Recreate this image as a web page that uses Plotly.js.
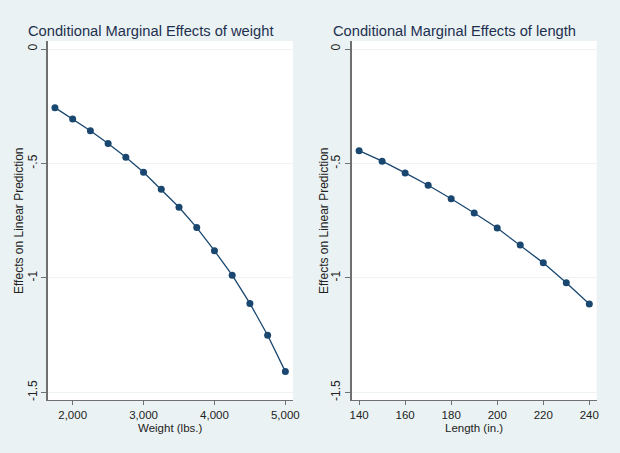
<!DOCTYPE html>
<html>
<head>
<meta charset="utf-8">
<script src="https://cdn.plot.ly/plotly-3.0.1.min.js"></script>
<style>html,body{margin:0;padding:0;background:#eaf2f3;}#chart{width:620px;height:453px;}</style>
</head>
<body>
<div id="chart"></div>
<script>
// Left panel: weight
const weightX = [1750, 2000, 2250, 2500, 2750, 3000, 3250, 3500, 3750, 4000, 4250, 4500, 4750, 5000];
const weightEffect = [-0.256, -0.306, -0.357, -0.413, -0.473, -0.538, -0.613, -0.691, -0.780, -0.881, -0.988, -1.111, -1.250, -1.409];
// Right panel: length
const lengthX = [140, 150, 160, 170, 180, 190, 200, 210, 220, 230, 240];
const lengthEffect = [-0.444, -0.490, -0.541, -0.595, -0.654, -0.716, -0.782, -0.856, -0.934, -1.021, -1.114];

const yTickVals = [0, -0.5, -1, -1.5];
const yTickText = ['0', '-.5', '-1', '-1.5'];
const weightTicks = [2000, 3000, 4000, 5000];
const weightTickText = ['2,000', '3,000', '4,000', '5,000'];
const lengthTicks = [140, 160, 180, 200, 220, 240];

const navy = '#1a476f';
const font = 'Liberation Sans, Arial, sans-serif';

const traces = [
  {x: weightX, y: weightEffect, xaxis: 'x', yaxis: 'y', mode: 'lines+markers',
   line: {color: navy, width: 1.3}, marker: {color: navy, size: 7}, showlegend: false},
  {x: lengthX, y: lengthEffect, xaxis: 'x2', yaxis: 'y2', mode: 'lines+markers',
   line: {color: navy, width: 1.3}, marker: {color: navy, size: 7}, showlegend: false}
];

function yAxis(anchor) {
  return {
    domain: [0.117, 0.9095], range: [-1.533, 0.035], anchor: anchor,
    tickvals: yTickVals, ticktext: yTickText, tickangle: -90,
    ticks: 'outside', ticklen: 5, tickcolor: '#707070', tickwidth: 1,
    showline: true, linecolor: '#707070', linewidth: 1.5,
    showgrid: true, gridcolor: '#eef3f4', gridwidth: 1, zeroline: false,
    tickfont: {family: font, size: 12, color: '#222'}
  };
}
function xAxis(domain, range, tickvals, ticktext, anchor) {
  return {
    domain: domain, range: range, anchor: anchor,
    tickvals: tickvals, ticktext: ticktext,
    ticks: 'outside', ticklen: 4, tickcolor: '#707070', tickwidth: 1,
    showline: true, linecolor: '#707070', linewidth: 1.5,
    showgrid: false, zeroline: false,
    tickfont: {family: font, size: 11.5, color: '#222'}
  };
}

function label(text, x, y, size, color, angle) {
  return {text: text, xref: 'paper', yref: 'paper', x: x / 620, y: 1 - y / 453,
    xanchor: 'center', yanchor: 'middle', showarrow: false, textangle: angle || 0,
    font: {family: font, size: size, color: color}};
}

const layout = {
  width: 620, height: 453,
  margin: {l: 0, r: 0, t: 0, b: 0},
  paper_bgcolor: '#eaf2f3', plot_bgcolor: '#ffffff',
  showlegend: false,
  xaxis: xAxis([0.0774, 0.4726], [1652, 5108], weightTicks, weightTickText, 'y'),
  yaxis: yAxis('x'),
  xaxis2: xAxis([0.5673, 0.9624], [136.8, 243.2], lengthTicks, lengthTicks.map(String), 'y2'),
  yaxis2: yAxis('x2'),
  annotations: [
    label('Conditional Marginal Effects of weight', 150, 31, 14.7, '#1e3050'),
    label('Conditional Marginal Effects of length', 454, 31, 14.7, '#1e3050'),
    label('Weight (lbs.)', 170, 428, 11.5, '#222'),
    label('Length (in.)', 474, 428, 11.5, '#222'),
    label('Effects on Linear Prediction', 19, 221, 12, '#222', -90),
    label('Effects on Linear Prediction', 324, 221, 12, '#222', -90)
  ]
};

Plotly.newPlot('chart', traces, layout, {displayModeBar: false, staticPlot: true});
</script>
</body>
</html>
